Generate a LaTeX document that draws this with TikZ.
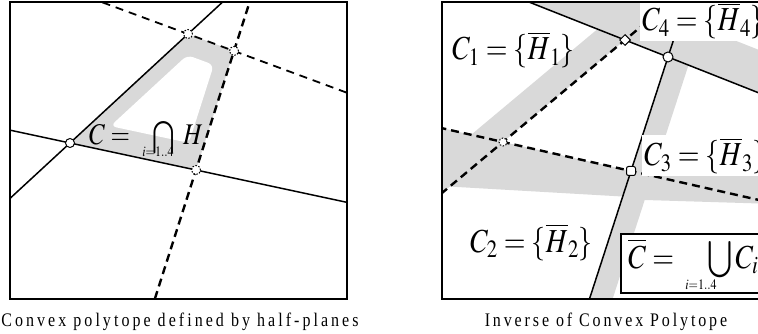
\documentclass[tikz,border=0pt]{standalone}
\usepackage{mathptmx}
\usepackage{fontspec}
\setmainfont{Liberation Serif}
\usepackage{graphicx}
\usetikzlibrary{calc,shapes.geometric}
\newcommand{\vst}[1]{\scalebox{1}[1.2]{#1}}
\newcommand{\bigop}[1]{\mathop{\vcenter{\hbox{\scalebox{1.2}{$#1$}}}}}
\begin{document}
\begin{tikzpicture}[x=1pt,y=-1pt,
  frame/.style={line width=2pt},
  solidln/.style={line width=1.5pt},
  dashln/.style={line width=2.4pt, dash pattern=on 8pt off 5pt},
  thindash/.style={line width=1.8pt, dash pattern=on 8pt off 6pt},
  band/.style={fill=black!15},
  vmark/.style={circle, draw, fill=white, line width=1pt, inner sep=0pt, minimum size=9pt},
  dmark/.style={vmark, dash pattern=on 1.5pt off 1.5pt},
  mlabel/.style={inner sep=0pt, font=\fontsize{28}{28}\selectfont},
  sublabel/.style={inner sep=0pt, font=\fontsize{12}{12}\selectfont},
  capt/.style={inner sep=0pt, font=\fontsize{16}{16}\selectfont\addfontfeature{LetterSpace=18}}]
\useasboundingbox (0,0) rectangle (758,334);
\fill[white] (0,0) rectangle (758,334);
\begin{scope}
\clip (0,0) rectangle (758,334);
% ---------- left figure ----------
\coordinate (P1) at (70,143);
\coordinate (P2) at (188,34);
\coordinate (P3) at (234,51);
\coordinate (P4) at (196,170);
\begin{scope}
\clip (10,2) rectangle (347,299);
\fill[band] (P1)--(P2)--(P3)--(P4)--cycle;
\fill[white, rounded corners=6pt] (110.4,126.1)--(187.3,55.1)--(213.8,64.9)--(188.9,142.9)--cycle;
\draw[solidln] ($(P1)!-1!(P2)$) -- ($(P2)!-1!(P1)$);
\draw[solidln] ($(P1)!-1!(P4)$) -- ($(P4)!-2!(P1)$);
\draw[thindash] ($(P2)!-3!(P3)$) -- ($(P3)!-3!(P2)$);
\draw[dashln] ($(P3)!-1!(P4)$) -- ($(P4)!-2!(P3)$);
\end{scope}
\node[vmark] (p1) at (P1) {};
\node[dmark] (p2) at (P2) {};
\node[dmark] (p3) at (P3) {};
\node[dmark] (p4) at (P4) {};
\node[mlabel, font=\fontsize{25}{25}\selectfont, anchor=base west] (lc) at (89,145) {\vst{$C = \ \hspace{11pt}\bigop{\bigcap}\hspace{5pt} H$}};
\node[sublabel, anchor=base] (lsub) at (158,157) {\vst{$i{=}1..4$}};
\draw[frame] (10,2) rectangle (347,299);
\node[capt, anchor=base, font=\fontsize{16}{16}\selectfont\addfontfeature{LetterSpace=19}] (capL) at (180,326) {\vst{Convex polytope defined by half-planes}};
% ---------- right figure ----------
\coordinate (Q1) at (625,40);
\coordinate (Q2) at (668,57);
\coordinate (Q3) at (631,171);
\coordinate (Q4) at (503,142);
\begin{scope}
\clip (442,2) rectangle (775,299);
% band above S1
\fill[band] ($(Q1)!-3!(Q2)$) -- ($(Q2)!-4!(Q1)$) -- ($(Q2)!-4!(Q1)+(14.7,-37.2)$) -- ($(Q1)!-3!(Q2)+(14.7,-37.2)$) -- cycle;
% band right of S2
\fill[band] ($(Q2)!-1!(Q3)$) -- ($(Q3)!-2!(Q2)$) -- ($(Q3)!-2!(Q2)+(20.9,6.8)$) -- ($(Q2)!-1!(Q3)+(20.9,6.8)$) -- cycle;
% band along D1
\fill[band] (440,127.7) -- (Q3) -- (645,166) -- (776,166) -- (776,204) -- (645,200) -- (631,197) -- (440,186) -- cycle;
% band upper-left of D2
\fill[band] ($(Q4)!-1!(Q1)$) -- ($(Q1)!-1!(Q4)$) -- ($(Q1)!-1!(Q4)+(-16.7,-19.9)$) -- ($(Q4)!-1!(Q1)+(-16.7,-19.9)$) -- cycle;
\draw[solidln] ($(Q1)!-3!(Q2)$) -- ($(Q2)!-4!(Q1)$);
\draw[solidln] ($(Q2)!-1!(Q3)$) -- ($(Q3)!-2!(Q2)$);
\draw[dashln] ($(Q4)!-1!(Q3)$) -- ($(Q3)!-2!(Q4)$);
\draw[dashln] ($(Q4)!-1!(Q1)$) -- ($(Q1)!-1!(Q4)$);
\end{scope}
\node[diamond, draw, fill=white, line width=1pt, inner sep=0pt, minimum size=11pt] (q1) at (Q1) {};
\node[vmark, minimum size=10pt] (q2) at (Q2) {};
\node[vmark, rectangle, rounded corners=2pt, minimum size=9pt] (q3) at (Q3) {};
\node[dmark, minimum size=8pt] (q4) at (Q4) {};
\node[mlabel, fill=white, inner sep=2pt, anchor=base west] (c4) at (640,31) {\vst{$C_4 = \{\overline{H}_4\}$}};
\node[mlabel, fill=white, inner sep=2pt, anchor=base west] (c3) at (642,166) {\vst{$C_3 = \{\overline{H}_3\}$}};
\node[mlabel, anchor=base west] (c1) at (452,60) {\vst{$C_1 = \{\overline{H}_1\}$}};
\node[mlabel, anchor=base west] (c2) at (470,252) {\vst{$C_2 = \{\overline{H}_2\}$}};
\node[draw, line width=2pt, fill=white, anchor=north west, minimum width=170pt, minimum height=59pt, inner sep=0pt] (cbox) at (620,233) {};
\node[mlabel, anchor=base west] (cu) at (628,268) {\vst{$\overline{C} = \ \hspace{20pt}\bigop{\bigcup} C_i$}};
\node[sublabel, anchor=base] (rsub) at (701,289) {\vst{$i{=}1..4$}};
\draw[frame] (442,2) rectangle (775,299);
\node[capt, anchor=base] (capR) at (606,326) {\vst{Inverse of Convex Polytope}};
\end{scope}
\end{tikzpicture}
\end{document}
